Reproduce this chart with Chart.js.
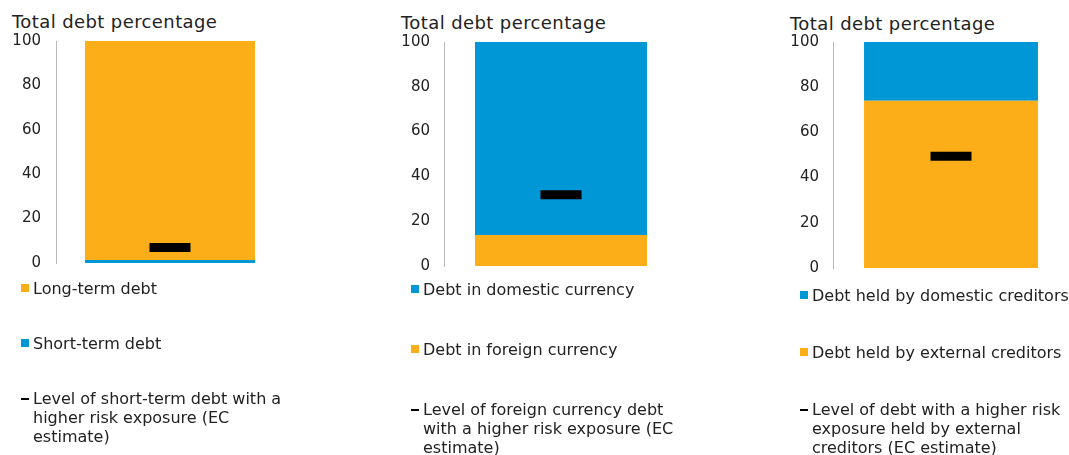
<!DOCTYPE html>
<html>
<head>
<meta charset="utf-8">
<script src="https://cdn.jsdelivr.net/npm/chart.js@4/dist/chart.umd.min.js"></script>
<style>
  body { margin: 0; background: #fff; }
  #wrap { position: relative; width: 1069px; height: 455px; overflow: hidden; font-family: "DejaVu Sans", Verdana, sans-serif; color: #222; }
  .ttl { position: absolute; font-size: 18px; letter-spacing: 0.4px; line-height: 20px; white-space: nowrap; }
  .cv { position: absolute; }
  .lg { position: absolute; font-size: 16px; line-height: 19px; }
  .item { position: relative; }
  .sw { position: absolute; width: 8px; height: 8px; }
  .ln { position: absolute; width: 8px; height: 2px; background: #000; }
</style>
</head>
<body>
<div id="wrap"></div>
<script>
// ---- data ----
const categories = ['Total debt'];
const yTicks = [0, 20, 40, 60, 80, 100];

// panel 1: maturity
const shortTermDebt = [1.3];
const longTermDebt = [98.7];
const shortTermRisk = [7];

// panel 2: currency
const foreignCurrencyDebt = [13.8];
const domesticCurrencyDebt = [86.2];
const foreignCurrencyRisk = [31.8];

// panel 3: creditor
const externalCreditorDebt = [74];
const domesticCreditorDebt = [26];
const externalCreditorRisk = [49.5];

const ORANGE = '#FBAE17';
const BLUE = '#0097D7';

const panels = [
  {
    title: 'Total debt percentage',
    bottom: { label: 'Short-term debt', data: shortTermDebt, color: BLUE },
    top: { label: 'Long-term debt', data: longTermDebt, color: ORANGE },
    risk: { label: 'Level of short-term debt with a higher risk exposure (EC estimate)', data: shortTermRisk },
    layout: { titleX: 12, titleY: 12, left: 0, top: 17, width: 284, height: 270, bar: 0.746, tickPad: 15,
              lgX: 33, lgTop: 279, lgGap: 55, lgW: 262 }
  },
  {
    title: 'Total debt percentage',
    bottom: { label: 'Debt in foreign currency', data: foreignCurrencyDebt, color: ORANGE },
    top: { label: 'Debt in domestic currency', data: domesticCurrencyDebt, color: BLUE },
    risk: { label: 'Level of foreign currency debt with a higher risk exposure (EC estimate)', data: foreignCurrencyRisk },
    layout: { titleX: 401, titleY: 13, left: 388, top: 19, width: 290, height: 270, bar: 0.735, tickPad: 14,
              lgX: 423, lgTop: 280, lgGap: 60, lgW: 262 }
  },
  {
    title: 'Total debt percentage',
    bottom: { label: 'Debt held by external creditors', data: externalCreditorDebt, color: ORANGE },
    top: { label: 'Debt held by domestic creditors', data: domesticCreditorDebt, color: BLUE },
    risk: { label: 'Level of debt with a higher risk exposure held by external creditors (EC estimate)', data: externalCreditorRisk },
    layout: { titleX: 790, titleY: 14, left: 777, top: 19, width: 292, height: 272, bar: 0.737, tickPad: 14,
              lgX: 812, lgTop: 286, lgGap: 57, lgW: 260 }
  }
];

const wrap = document.getElementById('wrap');

panels.forEach(function(p) {
  const L = p.layout;

  const ttl = document.createElement('div');
  ttl.className = 'ttl';
  ttl.style.left = L.titleX + 'px';
  ttl.style.top = L.titleY + 'px';
  ttl.textContent = p.title;
  wrap.appendChild(ttl);

  const cv = document.createElement('canvas');
  cv.className = 'cv';
  cv.style.left = L.left + 'px';
  cv.style.top = L.top + 'px';
  cv.width = L.width;
  cv.height = L.height;
  cv.style.width = L.width + 'px';
  cv.style.height = L.height + 'px';
  wrap.appendChild(cv);

  new Chart(cv.getContext('2d'), {
    type: 'bar',
    data: {
      labels: categories,
      datasets: [
        { label: p.bottom.label, data: p.bottom.data, backgroundColor: p.bottom.color, order: 1, stack: 'debt',
          barPercentage: L.bar, categoryPercentage: 1 },
        { label: p.top.label, data: p.top.data, backgroundColor: p.top.color, order: 1, stack: 'debt',
          barPercentage: L.bar, categoryPercentage: 1 },
        { type: 'line', label: p.risk.label, data: p.risk.data, stack: 'risk', order: 0, showLine: false,
          pointStyle: 'line', pointRadius: 20.5, pointBorderWidth: 9, borderColor: '#000', backgroundColor: '#000' }
      ]
    },
    options: {
      responsive: false,
      animation: false,
      events: [],
      layout: { padding: 0, autoPadding: false },
      plugins: { legend: { display: false }, tooltip: { enabled: false } },
      scales: {
        x: { display: false, stacked: true },
        y: {
          stacked: true,
          min: 0,
          max: 100,
          afterBuildTicks: function(scale) { scale.ticks = yTicks.map(function(v) { return { value: v }; }); },
          afterFit: function(scale) { scale.width = 56; },
          grid: { display: false, drawTicks: false },
          border: { display: true, color: '#b8b8b8', width: 1 },
          ticks: { color: '#222', padding: L.tickPad, font: { family: '"DejaVu Sans", Verdana, sans-serif', size: 15 } }
        }
      }
    }
  });

  // legend: top segment, bottom segment, risk marker
  const lg = document.createElement('div');
  lg.className = 'lg';
  lg.style.left = L.lgX + 'px';
  lg.style.top = L.lgTop + 'px';
  lg.style.width = L.lgW + 'px';
  [p.top, p.bottom, p.risk].forEach(function(s, i) {
    const it = document.createElement('div');
    it.className = 'item';
    if (i > 0) it.style.marginTop = (L.lgGap - 19) + 'px';
    const mk = document.createElement('span');
    if (s.color) {
      mk.className = 'sw';
      mk.style.background = s.color;
      mk.style.left = '-12px';
      mk.style.top = '5px';
    } else {
      mk.className = 'ln';
      mk.style.left = '-12px';
      mk.style.top = '9px';
    }
    it.appendChild(mk);
    it.appendChild(document.createTextNode(s.label));
    lg.appendChild(it);
  });
  wrap.appendChild(lg);
});
</script>
</body>
</html>
